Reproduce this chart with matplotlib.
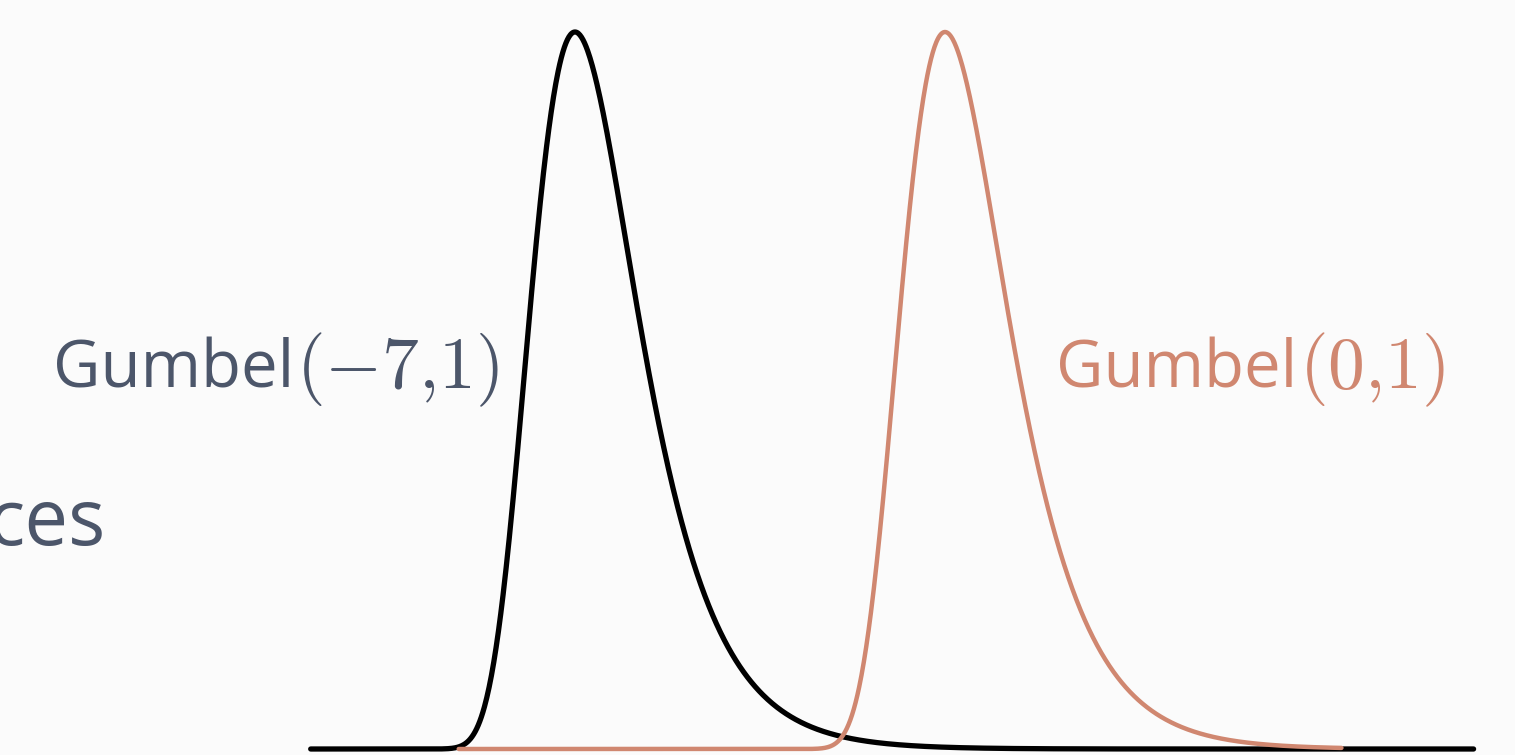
import numpy as np
import matplotlib.pyplot as plt

plt.rcParams['mathtext.fontset'] = 'cm'
plt.rcParams['font.family'] = ['Open Sans', 'DejaVu Sans']

# distribution parameters
names = ['Gumbel', 'Gumbel']
params = ['$(-7{,}1)$', '$(0{,}1)$']
locs = [-7.0, 0.0]
scales = [1.0, 1.0]
x_ranges = [(-12.0, 10.0), (-9.2, 7.5)]
colors = ['black', '#d08770']
text_colors = ['#4c566a', '#d08770']
label_x = [53, 1056]
widths = [3.8, 3.2]


def gumbel_pdf(x, mu, beta):
    z = (x - mu) / beta
    return np.exp(-(z + np.exp(-z))) / beta


W, H = 1515, 755
fig = plt.figure(figsize=(W / 100, H / 100), dpi=100, facecolor='#fbfbfb')
ax = fig.add_axes([0, 0, 1, 1])
ax.set_facecolor('#fbfbfb')

# pixel mapping: peak of Gumbel(0,1) at px 945, 52.86 px per unit
ppu = 52.86
ax.set_xlim((0 - 945) / ppu, (W - 945) / ppu)
ypu = 717 / np.exp(-1)
ax.set_ylim(-6 / ypu, np.exp(-1) + 32 / ypu)
ax.axis('off')

for i in range(len(locs)):
    lo, hi = x_ranges[i]
    xs = np.linspace(lo, hi, 1500)
    ax.plot(xs, gumbel_pdf(xs, locs[i], scales[i]), color=colors[i],
            lw=widths[i], solid_capstyle='round', zorder=2 + i)

# labels: sans name followed by a slightly larger math part
renderer = fig.canvas.get_renderer()
for i in range(len(names)):
    t = fig.text(label_x[i] / W, 1 - 388 / H, names[i], color=text_colors[i],
                 fontsize=47, ha='left', va='baseline')
    bb = t.get_window_extent(renderer)
    fig.text((bb.x1 + 2) / W, 1 - 388 / H, params[i], color=text_colors[i],
             fontsize=53, ha='left', va='baseline')

fig.text(106 / W, 1 - 545 / H, 'ces', color=text_colors[0], fontsize=56,
         ha='right', va='baseline')

fig.savefig('out.png', dpi=100, facecolor=fig.get_facecolor())
